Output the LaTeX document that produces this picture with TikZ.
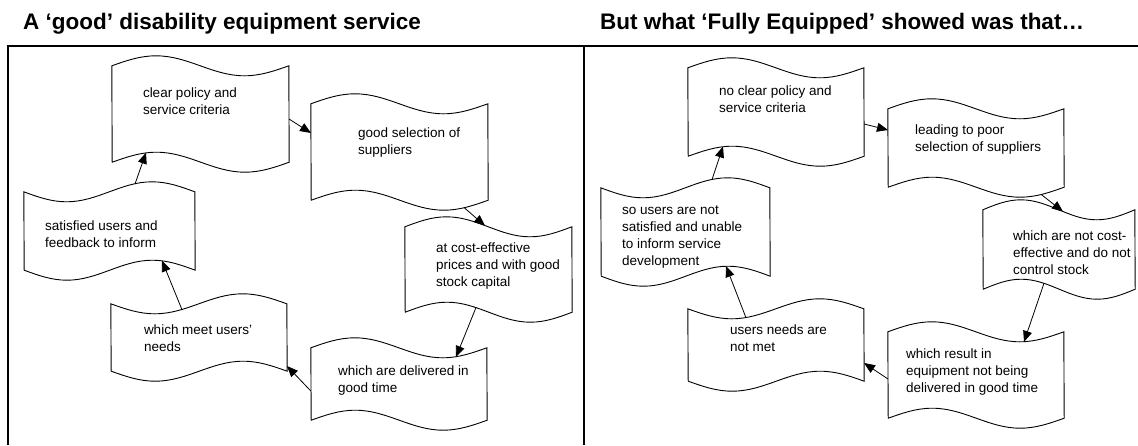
\documentclass[tikz,border=0pt]{standalone}
\usepackage{fontspec}
\setmainfont{Liberation Sans}
\usetikzlibrary{arrows.meta,positioning,calc}

% wavy outline of a punched tape round a box node, #2 = quarter of its width
\newcommand{\tapeline}[2]{%
  \draw[outline] (#1.north west) sin ++(#2,-10) cos ++(#2,10) sin ++(#2,10) cos ++(#2,-10)
    -- (#1.south east) sin ++(-#2,10) cos ++(-#2,-10) sin ++(-#2,-10) cos ++(-#2,10) -- cycle;}
% the same, mirrored
\newcommand{\tapelineflip}[2]{%
  \draw[outline] (#1.north west) sin ++(#2,10) cos ++(#2,-10) sin ++(#2,-10) cos ++(#2,10)
    -- (#1.south east) sin ++(-#2,-10) cos ++(-#2,10) sin ++(-#2,10) cos ++(-#2,-10) -- cycle;}

\tikzset{
  box/.style={inner sep=0pt},
  outline/.style={line width=0.9pt},
  txt/.style={inner sep=0pt, align=left, font=\fontsize{13.5}{17}\selectfont},
  head/.style={inner sep=0pt, anchor=base west, font=\fontsize{22.5}{27}\selectfont\bfseries},
  link/.style={line width=0.8pt, -{Triangle[length=11pt,width=9pt]}},
}

\begin{document}
\begin{tikzpicture}[x=1pt, y=-1pt]
\useasboundingbox (0,0) rectangle (1138,445);

% frame of the two panels
\draw[line width=1.4pt] (8,445) -- (8,46) -- (1138,46);
\draw[line width=1.4pt] (584,46) -- (584,445);

\node[head] (lhead) at (23,29) {A ‘good’ disability equipment service};
\node[head] (rhead) at (600,29) {But what ‘Fully Equipped’ showed was that…};

% left panel
\node[box, minimum width=177pt, minimum height=96pt] (s1) at (200.5,114) {};
\tapeline{s1}{44.25}
\node[txt, below right=21.5pt and 31pt of s1.north west] (s1t) {clear policy and\\service criteria};
\node[box, minimum width=177pt, minimum height=96pt] (s2) at (399.5,152) {};
\tapeline{s2}{44.25}
\node[txt, below right=23.5pt and 47pt of s2.north west] (s2t) {good selection of\\suppliers};
\node[box, minimum width=171pt, minimum height=78pt] (s3) at (109.5,231) {};
\tapelineflip{s3}{42.75}
\node[txt, below right=28.5pt and 21pt of s3.north west] (s3t) {satisfied users and\\feedback to inform};
\node[box, minimum width=167pt, minimum height=85pt] (s4) at (488.5,269.5) {};
\tapeline{s4}{41.75}
\node[txt, below right=15.5pt and 31pt of s4.north west] (s4t) {at cost-effective\\prices and with good\\stock capital};
\node[box, minimum width=176pt, minimum height=67pt] (s5) at (199,337.5) {};
\tapelineflip{s5}{44}
\node[txt, below right=20.5pt and 33pt of s5.north west] (s5t) {which meet users’\\needs};
\node[box, minimum width=176pt, minimum height=72pt] (s6) at (399,384) {};
\tapeline{s6}{44}
\node[txt, below right=17.5pt and 27pt of s6.north west] (s6t) {which are delivered in\\good time};

\draw[link] ($(s3)+(25.5,-47)$) -- ($(s1)+(-54.5,38.7)$);
\draw[link] ($(s1)+(88.5,5)$) -- ($(s2)+(-88.5,-19)$);
\draw[link] ($(s2)+(64.5,55.5)$) -- ($(s4)+(-3.5,-43.8)$);
\draw[link] ($(s4)+(-12.5,38)$) -- ($(s6)+(57,-27)$);
\draw[link] ($(s6)+(-88,7.2)$) -- ($(s5)+(88,28.5)$);
\draw[link] ($(s5)+(-17,-27.8)$) -- ($(s3)+(52.5,29.6)$);

% right panel
\node[box, minimum width=176pt, minimum height=88pt] (r1) at (776,112) {};
\tapeline{r1}{44}
\node[txt, below right=17.5pt and 31pt of r1.north west] (r1t) {no clear policy and\\service criteria};
\node[box, minimum width=176pt, minimum height=78pt] (r2) at (976,148) {};
\tapeline{r2}{44}
\node[txt, below right=15.5pt and 27pt of r2.north west] (r2t) {leading to poor\\selection of suppliers};
\node[box, minimum width=169pt, minimum height=88pt] (r3) at (685.5,232) {};
\tapelineflip{r3}{42.25}
\node[txt, below right=17.5pt and 21pt of r3.north west] (r3t) {so users are not\\satisfied and unable\\to inform service\\development};
\node[box, minimum width=152pt, minimum height=79pt] (r4) at (1059,249.5) {};
\tapeline{r4}{38}
\node[txt, below right=20.5pt and 30pt of r4.north west] (r4t) {which are not cost-\\effective and do not\\control stock};
\node[box, minimum width=176pt, minimum height=72pt] (r5) at (776,345) {};
\tapelineflip{r5}{44}
\node[txt, below right=15.5pt and 42pt of r5.north west] (r5t) {users needs are\\not met};
\node[box, minimum width=176pt, minimum height=86pt] (r6) at (976,375) {};
\tapeline{r6}{44}
\node[txt, below right=16.5pt and 18pt of r6.north west] (r6t) {which result in\\equipment not being\\delivered in good time};

\draw[link] ($(r3)+(26.5,-52.3)$) -- ($(r1)+(-53,34.5)$);
\draw[link] ($(r1)+(88,12)$) -- ($(r2)+(-88,-18)$);
\draw[link] ($(r2)+(65,46.3)$) -- ($(r4)+(4,-37.9)$);
\draw[link] ($(r4)+(-15,33.7)$) -- ($(r6)+(48,-33.1)$);
\draw[link] ($(r6)+(-88,4)$) -- ($(r5)+(88,18)$);
\draw[link] ($(r5)+(-30,-27.2)$) -- ($(r3)+(40.5,34)$);
\end{tikzpicture}
\end{document}
